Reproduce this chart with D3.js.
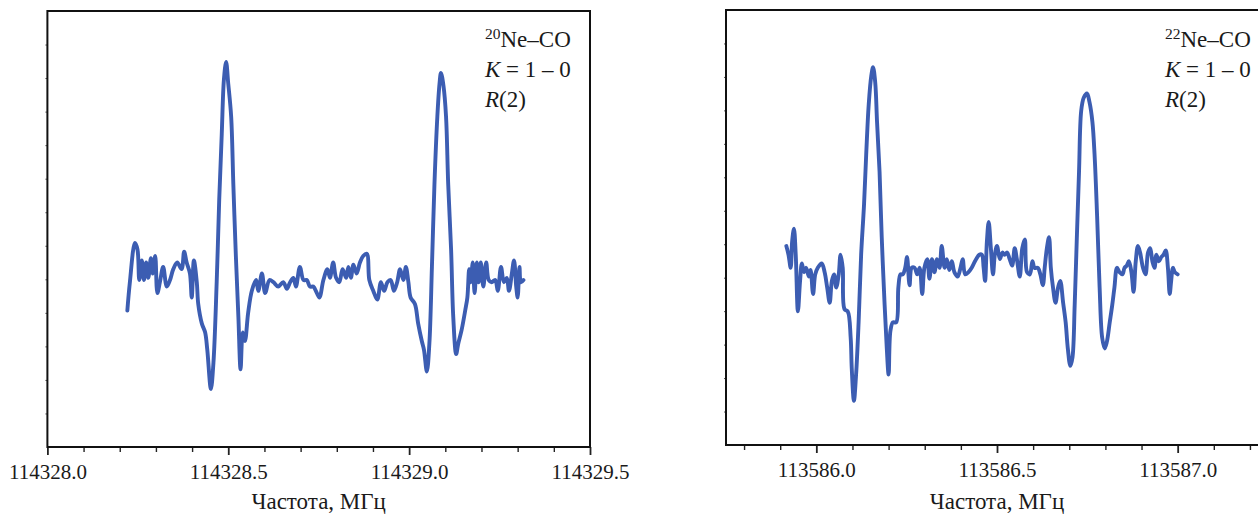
<!DOCTYPE html>
<html><head><meta charset="utf-8">
<script src="https://cdn.jsdelivr.net/npm/d3@7"></script>
<style>
html,body{margin:0;padding:0;background:#fff;}
svg{display:block;}
text{font-family:"Liberation Serif","Times New Roman",serif;fill:#1a1a1a;}
</style></head>
<body><svg id="c" width="1258" height="517"></svg>
<script>
// ---- data ----
const leftFreq = [114328.221,114328.228,114328.242,114328.249,114328.254,114328.261,114328.267,114328.273,114328.279,114328.286,114328.291,114328.298,114328.304,114328.311,114328.320,114328.330,114328.339,114328.348,114328.359,114328.371,114328.378,114328.385,114328.394,114328.399,114328.405,114328.413,114328.417,114328.427,114328.436,114328.442,114328.452,114328.459,114328.468,114328.475,114328.482,114328.488,114328.494,114328.500,114328.508,114328.514,114328.521,114328.528,114328.534,114328.540,114328.546,114328.555,114328.565,114328.577,114328.583,114328.593,114328.602,114328.614,114328.625,114328.638,114328.652,114328.662,114328.671,114328.680,114328.687,114328.698,114328.708,114328.717,114328.726,114328.735,114328.745,114328.752,114328.763,114328.774,114328.781,114328.790,114328.798,114328.807,114328.816,114328.826,114328.832,114328.839,114328.846,114328.855,114328.864,114328.873,114328.883,114328.890,114328.901,114328.912,114328.922,114328.931,114328.940,114328.949,114328.958,114328.967,114328.975,114328.984,114328.991,114328.998,114329.004,114329.016,114329.025,114329.035,114329.041,114329.049,114329.056,114329.063,114329.070,114329.078,114329.084,114329.088,114329.095,114329.102,114329.108,114329.116,114329.122,114329.130,114329.136,114329.145,114329.155,114329.161,114329.166,114329.170,114329.176,114329.181,114329.187,114329.192,114329.198,114329.205,114329.213,114329.220,114329.228,114329.238,114329.245,114329.254,114329.262,114329.270,114329.276,114329.284,114329.290,114329.296,114329.300,114329.305,114329.309,114329.316];
const leftSignal = [-0.14,-0.01,0.17,0.14,0.00,0.09,0.00,0.08,0.01,0.10,0.03,0.11,-0.06,-0.01,0.06,-0.03,0.00,0.05,0.08,0.05,0.13,0.08,0.03,-0.08,0.09,-0.01,-0.11,-0.20,-0.24,-0.32,-0.50,-0.38,-0.01,0.37,0.67,0.92,1.00,0.90,0.75,0.44,0.11,-0.17,-0.41,-0.24,-0.28,-0.15,-0.05,0.00,-0.05,0.03,-0.06,0.00,-0.01,-0.03,-0.01,-0.04,-0.01,0.01,-0.03,0.06,0.00,0.00,-0.03,-0.03,-0.06,-0.08,0.00,0.05,0.01,0.08,0.01,-0.01,0.05,0.01,0.06,0.01,0.07,0.03,0.08,0.11,0.12,0.00,-0.05,-0.09,-0.01,-0.05,-0.01,0.00,-0.05,-0.01,0.05,0.00,0.06,-0.01,-0.08,-0.11,-0.20,-0.28,-0.32,-0.42,-0.29,0.06,0.44,0.75,0.90,0.95,0.89,0.75,0.44,0.14,-0.17,-0.34,-0.29,-0.23,-0.14,-0.08,0.05,-0.01,0.08,-0.06,0.08,-0.01,0.08,-0.03,0.08,0.00,-0.01,0.00,-0.05,0.06,-0.01,0.01,-0.05,0.03,0.09,-0.03,-0.08,0.06,-0.01,0.00];

const rightFreq = [113585.917,113585.923,113585.929,113585.933,113585.938,113585.943,113585.949,113585.955,113585.960,113585.966,113585.972,113585.979,113585.984,113585.991,113585.997,113586.004,113586.015,113586.023,113586.030,113586.037,113586.043,113586.049,113586.055,113586.062,113586.067,113586.073,113586.078,113586.087,113586.095,113586.098,113586.104,113586.110,113586.117,113586.124,113586.132,113586.138,113586.145,113586.152,113586.157,113586.163,113586.168,113586.175,113586.181,113586.189,113586.195,113586.200,113586.205,113586.212,113586.221,113586.227,113586.233,113586.239,113586.246,113586.251,113586.258,113586.264,113586.272,113586.279,113586.286,113586.293,113586.299,113586.307,113586.313,113586.320,113586.327,113586.334,113586.341,113586.347,113586.355,113586.361,113586.368,113586.375,113586.382,113586.391,113586.399,113586.405,113586.412,113586.421,113586.430,113586.439,113586.451,113586.458,113586.463,113586.467,113586.472,113586.477,113586.483,113586.489,113586.494,113586.500,113586.508,113586.515,113586.521,113586.528,113586.535,113586.542,113586.549,113586.555,113586.563,113586.570,113586.577,113586.583,113586.591,113586.598,113586.604,113586.613,113586.620,113586.627,113586.632,113586.638,113586.644,113586.649,113586.655,113586.662,113586.669,113586.675,113586.683,113586.690,113586.696,113586.703,113586.709,113586.715,113586.721,113586.727,113586.733,113586.740,113586.749,113586.756,113586.764,113586.770,113586.777,113586.784,113586.791,113586.798,113586.804,113586.812,113586.819,113586.825,113586.832,113586.839,113586.847,113586.853,113586.859,113586.865,113586.872,113586.878,113586.884,113586.890,113586.896,113586.904,113586.911,113586.918,113586.924,113586.930,113586.936,113586.941,113586.948,113586.955,113586.961,113586.967,113586.973,113586.978,113586.982,113586.987,113586.992,113587.000];
const rightSignal = [0.11,0.07,0.01,0.13,0.19,0.07,-0.19,-0.05,0.03,-0.01,0.01,-0.03,0.00,-0.11,-0.02,0.01,0.03,-0.01,-0.08,-0.15,-0.05,-0.02,-0.08,-0.02,0.07,0.01,-0.18,-0.19,-0.31,-0.45,-0.60,-0.48,-0.24,0.07,0.30,0.53,0.76,0.89,0.93,0.86,0.68,0.45,0.15,-0.16,-0.36,-0.48,-0.28,-0.24,-0.24,-0.08,-0.02,-0.02,0.01,0.06,-0.07,0.01,0.01,-0.02,0.01,-0.11,0.01,0.05,-0.04,0.05,-0.01,0.05,0.01,0.11,0.01,0.05,0.00,0.04,-0.01,-0.03,0.01,0.05,-0.02,-0.01,0.01,0.04,0.07,0.07,0.01,-0.05,0.13,0.22,0.10,-0.02,0.07,0.11,0.05,0.08,0.07,0.08,0.05,0.02,0.10,0.05,-0.03,0.10,0.14,-0.01,-0.02,0.04,0.01,0.01,-0.02,-0.07,0.01,0.10,0.15,0.01,-0.08,-0.15,-0.08,-0.05,-0.15,-0.24,-0.36,-0.44,-0.40,-0.16,0.15,0.45,0.73,0.79,0.81,0.77,0.68,0.53,0.25,-0.08,-0.31,-0.36,-0.33,-0.24,-0.16,-0.08,0.01,-0.01,-0.02,0.01,0.02,0.04,-0.01,-0.10,0.04,0.11,0.08,0.01,-0.02,0.08,0.10,0.04,0.01,0.07,0.04,0.06,0.07,0.09,0.01,-0.11,-0.05,0.01,-0.01,-0.02];

const leftXDomain = [114328.0, 114329.5];
const rightXDomain = [113585.75, 113587.25];
const leftYDomain = [-0.766, 1.234];
const rightYDomain = [-0.803, 1.193];
const leftMajorTicks = [114328.0, 114328.5, 114329.0, 114329.5];
const rightMajorTicks = [113586.0, 113586.5, 113587.0];
const xTitle = "Частота, МГц";
const leftLabel = ["20", "Ne–CO"];
const rightLabel = ["22", "Ne–CO"];

// ---- drawing ----
const svg = d3.select("#c");
const lineColor = "#3c5db2";

function panel(cfg) {
  const x = d3.scaleLinear().domain(cfg.xDomain).range([cfg.x0, cfg.x1]);
  const y = d3.scaleLinear().domain(cfg.yDomain).range([cfg.y1, cfg.y0]);
  const g = svg.append("g");

  const minor = d3.range(Math.round(cfg.xDomain[0]*10), Math.round(cfg.xDomain[1]*10)+1)
      .map(v => v/10).filter(v => !cfg.major.some(m => Math.abs(m - v) < 1e-6));
  g.append("g").attr("transform", `translate(0,${cfg.y1})`)
    .call(d3.axisBottom(x).tickValues(minor).tickSize(5).tickFormat(""))
    .call(a => a.select(".domain").remove())
    .selectAll("line").attr("stroke", "#222").attr("stroke-width", 1.4);
  const ax = g.append("g").attr("transform", `translate(0,${cfg.y1})`)
    .call(d3.axisBottom(x).tickValues(cfg.major).tickSize(8).tickPadding(9).tickFormat(d3.format(".1f")));
  ax.select(".domain").remove();
  ax.selectAll("line").attr("stroke", "#222").attr("stroke-width", 1.8);
  ax.selectAll("text").attr("font-size", 21).attr("font-family", '"Liberation Serif", serif').attr("fill", "#1a1a1a");

  const yt = d3.range(1, 13).map(i => cfg.yDomain[0] + (cfg.yDomain[1]-cfg.yDomain[0]) * i / 13);
  g.append("g").attr("transform", `translate(${cfg.x0},0)`)
    .call(d3.axisLeft(y).tickValues(yt).tickSize(2).tickFormat(""))
    .call(a => a.select(".domain").remove())
    .selectAll("line").attr("stroke", "#555").attr("stroke-width", 1);

  g.append("rect").attr("x", cfg.x0).attr("y", cfg.y0)
    .attr("width", cfg.x1 - cfg.x0).attr("height", cfg.y1 - cfg.y0)
    .attr("fill", "none").attr("stroke", "#111").attr("stroke-width", 2);

  const data = cfg.freq.map((f, i) => [f, cfg.sig[i]]);
  g.append("path").datum(data)
    .attr("fill", "none").attr("stroke", lineColor).attr("stroke-width", 3.9)
    .attr("stroke-linejoin", "round").attr("stroke-linecap", "round")
    .attr("d", d3.line().curve(d3.curveCatmullRom.alpha(0.5)).x(d => x(d[0])).y(d => y(d[1])));

  g.append("text").attr("x", (cfg.x0 + cfg.x1) / 2).attr("y", 509)
    .attr("text-anchor", "middle").attr("font-size", 23).text(xTitle);

  const t = g.append("text").attr("x", cfg.lx).attr("y", 47).attr("font-size", 23);
  t.append("tspan").attr("font-size", 15.5).attr("dy", -8).text(cfg.label[0]);
  t.append("tspan").attr("dy", 8).text(cfg.label[1]);
  const t2 = g.append("text").attr("x", cfg.lx).attr("y", 77).attr("font-size", 23);
  t2.append("tspan").attr("font-style", "italic").text("K");
  t2.append("tspan").text(" = 1 – 0");
  const t3 = g.append("text").attr("x", cfg.lx).attr("y", 107).attr("font-size", 23);
  t3.append("tspan").attr("font-style", "italic").text("R");
  t3.append("tspan").text("(2)");
}

panel({xDomain: leftXDomain, yDomain: leftYDomain, major: leftMajorTicks,
  x0: 47.4, x1: 590, y0: 11, y1: 447, freq: leftFreq, sig: leftSignal, label: leftLabel, lx: 485});
panel({xDomain: rightXDomain, yDomain: rightYDomain, major: rightMajorTicks,
  x0: 726, x1: 1268, y0: 10, y1: 445, freq: rightFreq, sig: rightSignal, label: rightLabel, lx: 1165});
</script></body></html>
